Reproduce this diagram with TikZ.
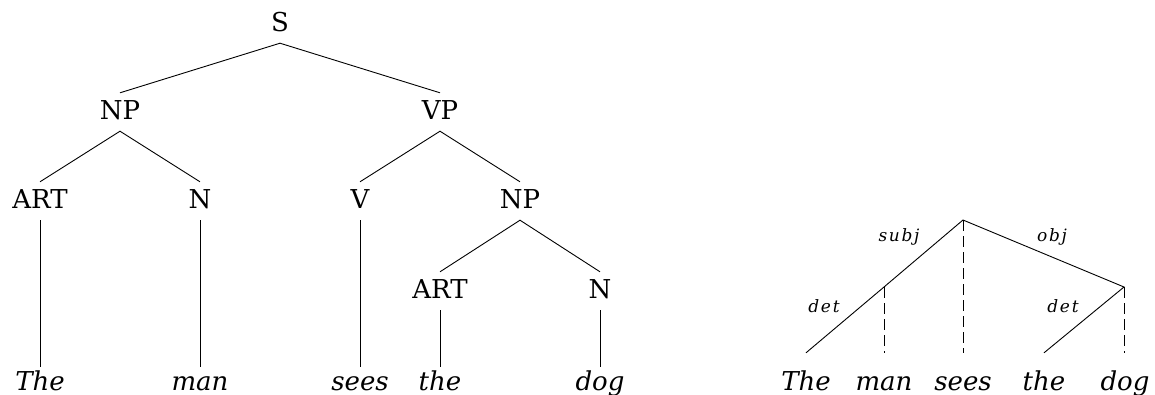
\documentclass[tikz,border=0pt]{standalone}
\usepackage{fontspec}
\setmainfont{DejaVu Serif}
\begin{document}
\begin{tikzpicture}[x=1pt,y=-1pt,
  cat/.style={font=\fontsize{26}{30}\selectfont, anchor=base, inner xsep=0pt, inner ysep=7pt, text height=19pt, text depth=5pt},
  word/.style={font=\fontsize{26}{30}\selectfont\itshape, anchor=base, inner xsep=0pt, inner ysep=2pt, text height=21pt, text depth=6pt},
  dword/.style={word, inner ysep=16pt},
  rel/.style={font=\fontsize{17}{20}\selectfont\itshape\addfontfeature{LetterSpace=10}, anchor=base, inner sep=0pt},
  edge/.style={line width=0.9pt},
  dep/.style={line width=0.9pt, dash pattern=on 11pt off 5pt}]
\useasboundingbox (0,0) rectangle (1155,394);
% constituency tree
\node[cat] (S) at (280,31) {S};
\node[cat] (NP) at (120,119) {NP};
\node[cat] (VP) at (440,119) {VP};
\node[cat] (ART) at (40,208) {ART};
\node[cat] (N) at (200,208) {N};
\node[cat] (V) at (360,208) {V};
\node[cat] (NPb) at (520,208) {NP};
\node[cat] (ARTb) at (440,298) {ART};
\node[cat] (Nb) at (600,298) {N};
\node[word] (w1) at (40,390) {The};
\node[word] (w2) at (200,390) {man};
\node[word] (w3) at (360,390) {sees};
\node[word] (w4) at (440,390) {the};
\node[word] (w5) at (600,390) {dog};
\draw[edge] (NP.north) -- (S.south) -- (VP.north);
\draw[edge] (ART.north) -- (NP.south) -- (N.north);
\draw[edge] (V.north) -- (VP.south) -- (NPb.north);
\draw[edge] (ARTb.north) -- (NPb.south) -- (Nb.north);
\draw[edge] (ART.south) -- (w1.north);
\draw[edge] (N.south) -- (w2.north);
\draw[edge] (V.south) -- (w3.north);
\draw[edge] (ARTb.south) -- (w4.north);
\draw[edge] (Nb.south) -- (w5.north);
% dependency tree
\node[dword] (d1) at (806,390) {The};
\node[dword] (d2) at (884,390) {man};
\node[dword] (d3) at (963,390) {sees};
\node[dword] (d4) at (1044,390) {the};
\node[dword] (d5) at (1125,390) {dog};
\coordinate (root) at (963,220);
\coordinate (manh) at (884,287);
\coordinate (dogh) at (1124,287);
\draw[edge] (d1.north) -- (manh) -- (root) -- (dogh) -- (d4.north);
\draw[dep] (manh) -- (manh |- d2.north);
\draw[dep] (root) -- (d3.north);
\draw[dep] (dogh) -- (dogh |- d5.north);
\node[rel] (lsubj) at (899,241) {subj};
\node[rel] (lobj) at (1052,241) {obj};
\node[rel] (ldet1) at (824,312) {det};
\node[rel] (ldet2) at (1063,312) {det};
\end{tikzpicture}
\end{document}
